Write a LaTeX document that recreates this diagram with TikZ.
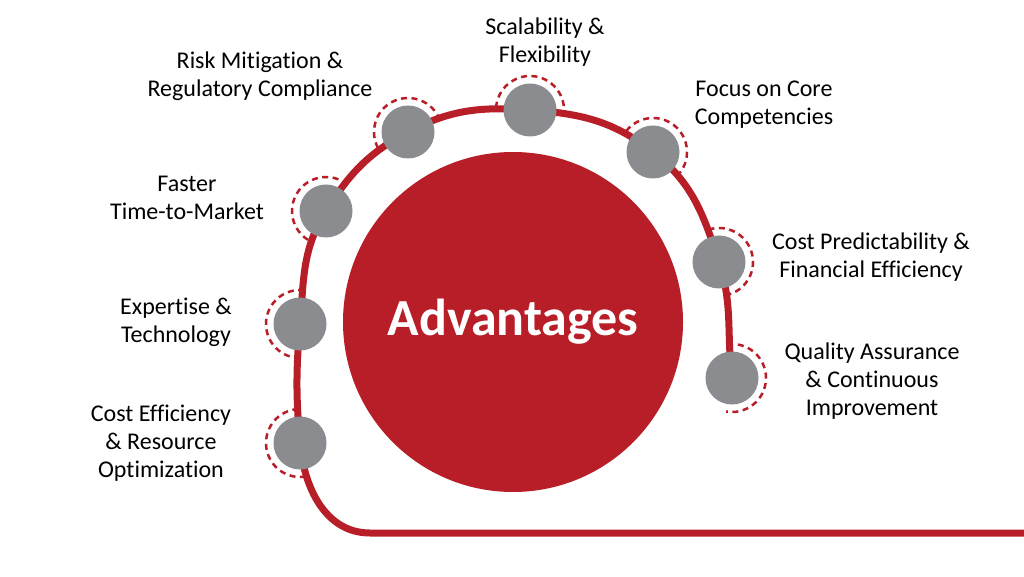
\documentclass[tikz,border=0pt]{standalone}
\usepackage{fontspec}
\setmainfont{Carlito}[Ligatures=NoCommon]
\definecolor{advred}{HTML}{B71E27}
\definecolor{dotgray}{HTML}{8B8C90}
\begin{document}
\begin{tikzpicture}[x=1pt,y=1pt,
  track/.style={draw=advred, line width=7pt},
  dot/.style={circle, fill=dotgray, minimum size=53pt, inner sep=0pt},
  ring/.style={draw=advred, line width=2.5pt, dash pattern=on 6pt off 4.5pt},
  lbl/.style={align=center, font=\fontsize{24}{28}\selectfont, text=black, inner sep=0pt},
  hub/.style={circle, fill=advred, minimum size=340pt, inner sep=0pt, text=white,
    font=\fontsize{52}{60}\selectfont\bfseries}]
\useasboundingbox (0,0) rectangle (1024,576);
\fill[white] (0,0) rectangle (1024,576);
\node[hub] (hub) at (513,254) {Advantages};
\coordinate (c1) at (300,133);
\coordinate (c2) at (300,252);
\coordinate (c3) at (326,365);
\coordinate (c4) at (408,444);
\coordinate (c5) at (530,466);
\coordinate (c6) at (653,424);
\coordinate (c7) at (719,314);
\coordinate (c8) at (732,198);
\coordinate (e) at (1024,43);
\coordinate (k) at (370,43);
\draw[track] (e) -- (k) to[out=180,in=275] (c1) to[out=95,in=265] (c2)
  to[out=85,in=238] (c3) to[out=58,in=208] (c4) to[out=28,in=176] (c5)
  to[out=-4,in=142] (c6) to[out=-38,in=108] (c7) to[out=-72,in=97] (c8);
\foreach \c/\a in {c1/190,c2/180,c3/148,c4/118,c5/86,c6/52,c7/18,c8/-10}{
  \pgfmathsetmacro{\sa}{\a+90}
  \pgfmathsetmacro{\ea}{\a-90}
  \node[dot] (d\c) at (\c) {};
  \draw[ring] (\c) ++(\sa:34) arc[start angle=\sa, end angle=\ea, radius=34];
}
\node[lbl] (l1) at (161,133) {Cost Efficiency\\\& Resource\\Optimization};
\node[lbl] (l2) at (176,254) {Expertise \&\\Technology};
\node[lbl] (l3) at (187,378) {Faster\\Time-to-Market};
\node[lbl] (l4) at (260,500) {Risk Mitigation \&\\Regulatory Compliance};
\node[lbl] (l5) at (545,534) {Scalability \&\\Flexibility};
\node[lbl] (l6) at (764,471) {Focus on Core\\Competencies};
\node[lbl] (l7) at (871,319) {Cost Predictability \&\\Financial Efficiency};
\node[lbl] (l8) at (872,195) {Quality Assurance\\\& Continuous\\Improvement};
\end{tikzpicture}
\end{document}
